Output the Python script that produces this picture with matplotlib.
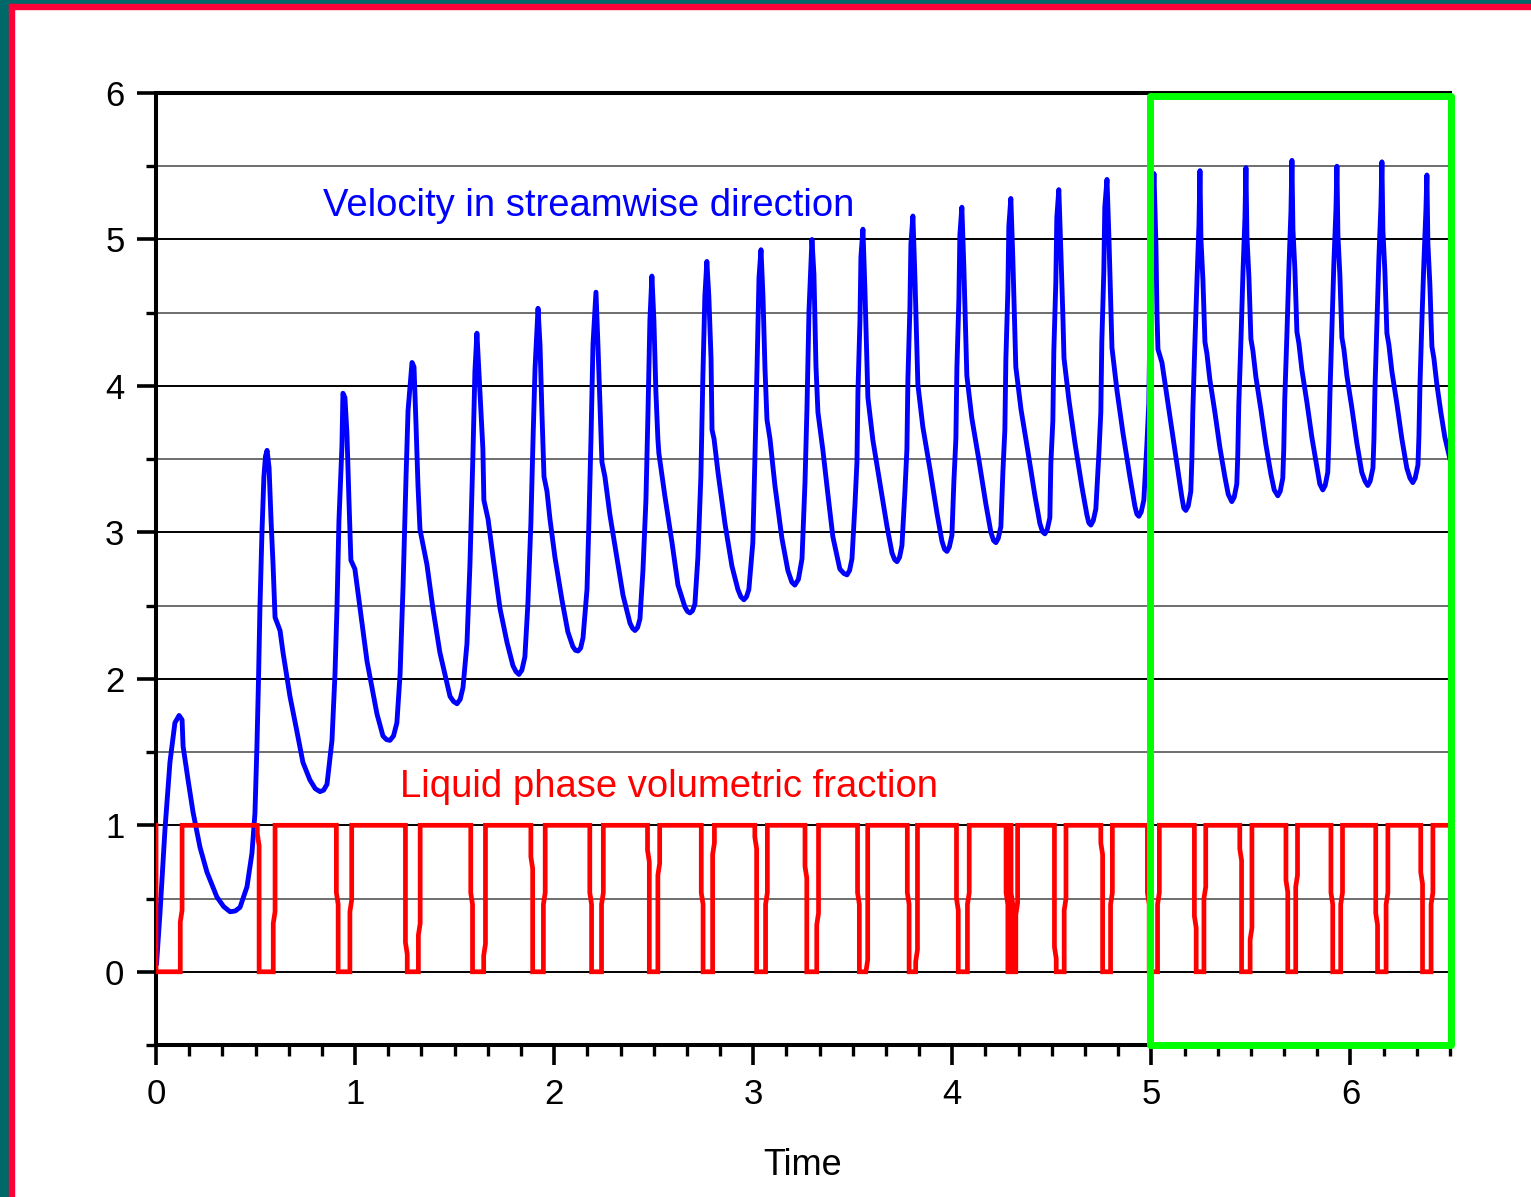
import matplotlib
matplotlib.use("Agg")
import matplotlib.pyplot as plt
from matplotlib.patches import Rectangle
from matplotlib.ticker import MultipleLocator

plt.rcParams['font.family'] = ['Liberation Sans', 'DejaVu Sans']

# ---- velocity in streamwise direction ----
vel_t = [
    0.003, 0.020, 0.045, 0.070, 0.095, 0.116, 0.131, 0.136, 0.161, 0.186, 0.221, 0.256, 0.306,
    0.340, 0.372, 0.398, 0.422, 0.457, 0.482, 0.497, 0.507, 0.515, 0.522, 0.532, 0.542, 0.550, 0.558,
    0.568, 0.578, 0.588, 0.598, 0.623, 0.638, 0.673, 0.708, 0.738, 0.773, 0.800, 0.824, 0.842,
    0.859, 0.884, 0.899, 0.909, 0.919, 0.934, 0.939, 0.949, 0.959, 0.969, 0.979, 0.999, 1.025, 1.060, 1.110, 1.140, 1.158, 1.175, 1.193,
    1.210, 1.226, 1.241, 1.256, 1.266, 1.286, 1.296, 1.306, 1.316, 1.326, 1.361, 1.391, 1.426, 1.477, 1.495, 1.512, 1.528,
    1.542, 1.562, 1.577, 1.592, 1.602, 1.612, 1.627, 1.642, 1.647, 1.668, 1.693, 1.728, 1.763, 1.793, 1.808, 1.823, 1.838,
    1.853, 1.868, 1.883, 1.894, 1.904, 1.919, 1.929, 1.939, 1.949, 1.964, 1.979, 2.004, 2.039, 2.069, 2.094, 2.107, 2.120, 2.133,
    2.145, 2.165, 2.175, 2.185, 2.195, 2.210, 2.220, 2.230, 2.240, 2.255, 2.280, 2.315, 2.346, 2.381, 2.394, 2.406, 2.419,
    2.431, 2.446, 2.461, 2.471, 2.481, 2.491, 2.501, 2.511, 2.521, 2.526, 2.556, 2.592, 2.622, 2.657, 2.670, 2.682, 2.695,
    2.707, 2.722, 2.737, 2.747, 2.757, 2.767, 2.777, 2.788, 2.793, 2.803, 2.823, 2.858, 2.893, 2.923, 2.938, 2.953, 2.966,
    2.978, 2.998, 3.008, 3.019, 3.029, 3.039, 3.049, 3.059, 3.069, 3.084, 3.109, 3.144, 3.174, 3.194, 3.209, 3.227,
    3.245, 3.260, 3.270, 3.280, 3.295, 3.305, 3.315, 3.325, 3.350, 3.375, 3.400, 3.435, 3.455, 3.471, 3.484,
    3.496, 3.511, 3.521, 3.526, 3.536, 3.541, 3.551, 3.561, 3.571, 3.576, 3.601, 3.636, 3.672, 3.697, 3.710, 3.722, 3.735,
    3.747, 3.762, 3.772, 3.777, 3.787, 3.792, 3.802, 3.812, 3.822, 3.827, 3.852, 3.888, 3.923, 3.948, 3.961, 3.973, 3.985,
    3.998, 4.008, 4.018, 4.023, 4.033, 4.038, 4.048, 4.058, 4.068, 4.073, 4.098, 4.134, 4.169, 4.194, 4.207, 4.219, 4.231,
    4.244, 4.254, 4.264, 4.269, 4.279, 4.284, 4.294, 4.304, 4.314, 4.319, 4.345, 4.380, 4.415, 4.440, 4.453, 4.465, 4.477,
    4.490, 4.495, 4.505, 4.510, 4.520, 4.525, 4.535, 4.545, 4.556, 4.561, 4.586, 4.616, 4.651, 4.676, 4.686, 4.696, 4.708,
    4.721, 4.736, 4.746, 4.751, 4.761, 4.766, 4.777, 4.787, 4.797, 4.802, 4.827, 4.857, 4.892, 4.917, 4.927, 4.937, 4.949,
    4.962, 4.977, 4.987, 4.992, 5.003, 5.008, 5.013, 5.023, 5.028, 5.033, 5.053, 5.078, 5.103, 5.128, 5.153, 5.163, 5.173, 5.185,
    5.198, 5.203, 5.208, 5.218, 5.229, 5.239, 5.244, 5.249, 5.259, 5.269, 5.279, 5.294, 5.319, 5.344, 5.369, 5.386, 5.404, 5.416,
    5.429, 5.434, 5.439, 5.450, 5.460, 5.470, 5.475, 5.480, 5.490, 5.500, 5.510, 5.525, 5.550, 5.575, 5.600, 5.617, 5.635, 5.647,
    5.660, 5.665, 5.670, 5.681, 5.691, 5.701, 5.706, 5.711, 5.721, 5.731, 5.741, 5.756, 5.781, 5.806, 5.831, 5.846, 5.861, 5.873,
    5.886, 5.891, 5.897, 5.907, 5.917, 5.927, 5.932, 5.937, 5.947, 5.957, 5.967, 5.982, 6.007, 6.032, 6.057, 6.073, 6.087, 6.099,
    6.113, 6.118, 6.123, 6.133, 6.143, 6.153, 6.158, 6.163, 6.173, 6.183, 6.193, 6.208, 6.233, 6.258, 6.283, 6.299, 6.313, 6.325,
    6.339, 6.344, 6.349, 6.359, 6.369, 6.379, 6.384, 6.389, 6.399, 6.409, 6.419, 6.434, 6.454, 6.474, 6.500,
]
vel_v = [
    0.06, 0.40, 0.97, 1.43, 1.70, 1.75, 1.72, 1.54, 1.31, 1.09, 0.85, 0.68, 0.51,
    0.445, 0.41, 0.415, 0.44, 0.58, 0.81, 1.08, 1.54, 2.00, 2.48, 2.99, 3.38, 3.52, 3.56,
    3.44, 3.08, 2.78, 2.42, 2.33, 2.18, 1.88, 1.64, 1.43, 1.31, 1.25, 1.23, 1.24,
    1.28, 1.58, 2.03, 2.48, 3.08, 3.59, 3.95, 3.92, 3.68, 3.23, 2.81, 2.75, 2.48, 2.12, 1.76, 1.61, 1.585, 1.58, 1.61,
    1.70, 2.03, 2.63, 3.38, 3.83, 4.16, 4.13, 3.74, 3.32, 3.02, 2.78, 2.48, 2.18, 1.88, 1.845, 1.83, 1.86,
    1.94, 2.24, 2.78, 3.53, 4.10, 4.36, 3.96, 3.57, 3.22, 3.09, 2.83, 2.48, 2.25, 2.09, 2.05, 2.03, 2.06,
    2.15, 2.51, 3.06, 3.64, 4.12, 4.53, 4.28, 3.80, 3.38, 3.28, 3.09, 2.83, 2.54, 2.32, 2.22, 2.195, 2.19, 2.21,
    2.28, 2.61, 3.09, 3.64, 4.28, 4.64, 4.28, 3.87, 3.48, 3.38, 3.12, 2.83, 2.57, 2.38, 2.345, 2.33, 2.35,
    2.41, 2.74, 3.22, 3.80, 4.45, 4.75, 4.45, 3.96, 3.64, 3.54, 3.25, 2.93, 2.64, 2.49, 2.46, 2.45, 2.465,
    2.51, 2.83, 3.38, 4.06, 4.61, 4.85, 4.61, 4.19, 3.70, 3.64, 3.41, 3.06, 2.77, 2.61, 2.56, 2.54, 2.56,
    2.61, 2.93, 3.48, 4.12, 4.74, 4.93, 4.61, 4.12, 3.77, 3.64, 3.32, 2.96, 2.74, 2.66, 2.64, 2.68,
    2.82, 3.34, 3.85, 4.51, 5.00, 4.76, 4.14, 3.82, 3.56, 3.26, 2.97, 2.75, 2.72, 2.71, 2.74,
    2.82, 3.19, 3.48, 3.96, 4.44, 4.88, 5.07, 4.66, 4.18, 3.92, 3.63, 3.34, 3.04, 2.86, 2.815, 2.80, 2.83,
    2.91, 3.28, 3.57, 4.05, 4.53, 4.97, 5.16, 4.75, 4.27, 4.01, 3.72, 3.43, 3.13, 2.94, 2.885, 2.87, 2.90,
    2.98, 3.35, 3.64, 4.12, 4.59, 5.03, 5.22, 4.81, 4.33, 4.07, 3.78, 3.49, 3.19, 3.00, 2.945, 2.93, 2.96,
    3.04, 3.41, 3.70, 4.18, 4.65, 5.09, 5.28, 4.87, 4.39, 4.13, 3.84, 3.55, 3.25, 3.06, 3.005, 2.99, 3.02,
    3.10, 3.47, 3.76, 4.24, 4.71, 5.15, 5.34, 4.93, 4.45, 4.19, 3.90, 3.61, 3.31, 3.12, 3.065, 3.05, 3.08,
    3.16, 3.53, 3.82, 4.30, 4.78, 5.22, 5.41, 5.00, 4.52, 4.26, 3.97, 3.68, 3.38, 3.18, 3.125, 3.11, 3.14,
    3.22, 3.59, 3.88, 4.36, 4.82, 5.26, 5.45, 4.95, 4.50, 4.25, 4.16, 3.93, 3.70, 3.47, 3.24, 3.165, 3.15, 3.18,
    3.28, 3.48, 3.82, 4.27, 4.72, 5.10, 5.47, 5.00, 4.72, 4.30, 4.22, 4.04, 3.82, 3.58, 3.38, 3.26, 3.21, 3.24,
    3.33, 3.53, 3.87, 4.32, 4.77, 5.15, 5.49, 5.02, 4.74, 4.32, 4.24, 4.06, 3.84, 3.60, 3.40, 3.29, 3.25, 3.28,
    3.37, 3.57, 3.91, 4.36, 4.81, 5.19, 5.54, 5.07, 4.79, 4.37, 4.29, 4.11, 3.89, 3.65, 3.45, 3.33, 3.29, 3.32,
    3.41, 3.61, 3.95, 4.40, 4.85, 5.20, 5.50, 5.03, 4.75, 4.33, 4.25, 4.07, 3.85, 3.61, 3.41, 3.35, 3.32, 3.35,
    3.44, 3.64, 3.98, 4.43, 4.88, 5.23, 5.53, 5.06, 4.78, 4.36, 4.28, 4.10, 3.88, 3.64, 3.44, 3.37, 3.34, 3.37,
    3.46, 3.66, 4.00, 4.45, 4.85, 5.20, 5.44, 4.97, 4.69, 4.27, 4.19, 4.01, 3.82, 3.65, 3.50,
]
assert len(vel_t) == len(vel_v)

# ---- liquid phase volumetric fraction: switching times (1 -> 0 and 0 -> 1) ----
# mid = level of the small step seen on each near-vertical switch
liq_drop_t = [0.509, 0.906, 1.253, 1.581, 1.883, 2.179, 2.469, 2.739, 3.008, 3.260, 3.524, 3.774,
              4.021, 4.270, 4.295, 4.513, 4.746, 4.980, 5.216, 5.444, 5.676, 5.902, 6.127, 6.353]
liq_drop_mid = [0.90, 0.50, 0.16, 0.50, 0.745, 0.50, 0.79, 0.50, 0.88, 0.68, 0.50, 0.50,
                0.46, 0.50, 0.50, 0.13, 0.84, 0.50, 0.34, 0.80, 0.585, 0.50, 0.36, 0.64]
liq_rise_t = [0.122, 0.589, 0.974, 1.318, 1.646, 1.946, 2.238, 2.521, 2.796, 3.062, 3.319, 3.566, 3.816,
              4.076, 4.282, 4.319, 4.562, 4.795, 5.031, 5.264, 5.496, 5.725, 5.951, 6.179, 6.405]
liq_rise_mid = [0.38, 0.37, 0.45, 0.29, 0.15, 0.50, 0.50, 0.70, 0.84, 0.50, 0.36, 0.04, 0.11,
                0.50, 0.50, 0.43, 0.46, 0.50, 0.50, 0.54, 0.26, 0.62, 0.50, 0.50, 0.50]

t_end = 6.5
jog = 0.009      # width of a switch
slant = 0.04     # half height of the slanted step

liq_t = [0.0, 0.0]
liq_v = [1.0, 0.0]
for i, (tr, mr) in enumerate(zip(liq_rise_t, liq_rise_mid)):
    liq_t += [tr, tr, tr + jog, tr + jog]
    liq_v += [0.0, max(mr - slant, 0.0), min(mr + slant, 1.0), 1.0]
    if i < len(liq_drop_t):
        td, md = liq_drop_t[i], liq_drop_mid[i]
        liq_t += [td, td, td + jog, td + jog]
        liq_v += [1.0, min(md + slant, 1.0), max(md - slant, 0.0), 0.0]
liq_t.append(t_end)
liq_v.append(1.0)

# ---- figure ----
W, H = 1531, 1197
fig = plt.figure(figsize=(W / 100, H / 100), dpi=100)
fig.patch.set_facecolor('white')

# coloured bands along the left and top edge
teal, crimson = '#006868', '#ff0038'
fig.patches.append(Rectangle((0, 0), 9 / W, 1, transform=fig.transFigure, color=teal, zorder=0))
fig.patches.append(Rectangle((0, 1 - 4 / H), 1, 4 / H, transform=fig.transFigure, color=teal, zorder=0))
fig.patches.append(Rectangle((9 / W, 0), 5 / W, 1 - 4 / H, transform=fig.transFigure, color=crimson, zorder=0))
fig.patches.append(Rectangle((9 / W, 1 - 9 / H), 1 - 9 / W, 5 / H, transform=fig.transFigure, color=crimson, zorder=0))

ax = fig.add_axes([156 / W, 1 - 1045 / H, (1450 - 156) / W, (1045 - 93) / H])

ax.plot(vel_t, vel_v, color='#0000ff', lw=3.5, zorder=3, solid_joinstyle='round')
ax.plot(liq_t, liq_v, color='#ff0000', lw=3.4, zorder=4, solid_joinstyle='miter')

ax.set_xlim(0, 6.5)
ax.set_ylim(-0.5, 6)

ax.xaxis.set_major_locator(MultipleLocator(1))
ax.xaxis.set_minor_locator(MultipleLocator(1 / 6))
ax.yaxis.set_major_locator(MultipleLocator(1))
ax.yaxis.set_minor_locator(MultipleLocator(0.5))

ax.yaxis.grid(True, which='major', color='black', lw=1.4, zorder=1)
ax.yaxis.grid(True, which='minor', color='#555555', lw=1.2, zorder=1)
ax.set_axisbelow(True)

for s in ax.spines.values():
    s.set_linewidth(2.9)
    s.set_color('black')

ax.tick_params(axis='both', which='both', direction='out', top=False, right=False, colors='black')
ax.tick_params(axis='y', which='major', length=13.7, width=2.6, labelsize=25, pad=9)
ax.tick_params(axis='y', which='minor', length=7.2, width=2.4)
ax.tick_params(axis='x', which='major', length=14.4, width=2.6, labelsize=25, pad=9.5)
ax.tick_params(axis='x', which='minor', length=8, width=2.4)

ax.set_xlabel('Time', fontsize=26, va='baseline')
ax.xaxis.set_label_coords(0.5, (1045 - 1175) / (1045 - 93))

ax.text(0.839, 5.16, 'Velocity in streamwise direction', color='#0000ff',
        fontsize=27.5, va='baseline', ha='left', zorder=5)
ax.text(1.226, 1.195, 'Liquid phase volumetric fraction', color='#ff0000',
        fontsize=27.5, va='baseline', ha='left', zorder=5)

# highlighted window
ax.add_patch(Rectangle((4.995, -0.503), 1.509, 6.483, fill=False, ec='#00ff00',
                       lw=5, clip_on=False, zorder=6, joinstyle='round'))

fig.savefig('out.png', dpi=100)
